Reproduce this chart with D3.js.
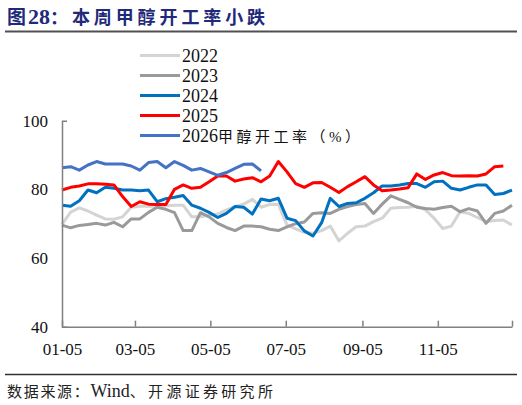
<!DOCTYPE html>
<meta charset="utf-8">
<head>
<title>甲醇开工率</title>
<script src="https://d3js.org/d3.v7.min.js"></script>
<style>
  body { margin: 0; background: #fff; }
  svg { font-family: "Liberation Serif", "Noto Sans CJK SC", serif; }
</style>
</head>
<body>
<div id="chart"></div>
<script>

    let w = 522;
    let h = 405;

    let tickDates = ["01-05", "03-05", "05-05", "07-05", "09-05", "11-05"];
    let seriesYears = ["2022", "2023", "2024", "2025", "2026"];
    let seriesColors = ["#d4d4d4", "#9a9a9a", "#0070c0", "#ff0000", "#4472c4"];

    let v2022 = [69.8, 73.4, 74.6, 73.7, 72.5, 71.4, 71.3, 72.0, 74.8, 75.1, 75.1, 75.1, 75.2, 75.4, 75.4, 72.0, 72.0, 72.5, 72.8, 74.0, 75.0, 75.7, 77.1, 74.8, 75.6, 75.7,
                 69.6, 68.5, 67.5, 67.2, 68.0, 69.3, 65.0, 67.2, 69.1, 69.3, 70.6, 71.6, 74.5, 74.7, 74.8, 75.1, 74.0, 71.6, 68.6, 69.3, 73.5, 73.0, 71.8, 70.6, 70.9, 71.1, 69.6];
    let v2023 = [69.6, 68.8, 69.5, 69.8, 70.1, 69.6, 70.4, 69.1, 71.4, 71.4, 73.3, 74.8, 74.2, 73.2, 68.0, 68.0, 73.2, 72.0, 70.1, 68.9, 68.0, 69.3, 69.3, 69.1, 68.4, 68.0,
                 69.1, 70.0, 70.5, 73.0, 73.2, 73.0, 74.2, 75.0, 75.6, 75.9, 73.0, 75.7, 78.1, 77.1, 76.1, 74.8, 74.4, 74.2, 74.7, 75.1, 73.5, 74.4, 73.7, 70.1, 73.0, 73.7, 75.4];
    let v2024 = [75.4, 75.1, 76.7, 79.8, 79.0, 80.6, 80.3, 79.8, 79.8, 79.6, 79.8, 76.4, 77.3, 77.7, 78.2, 75.4, 74.5, 73.3, 71.8, 73.0, 75.0, 74.8, 72.8, 77.2, 76.7, 77.4,
                 71.6, 70.9, 67.9, 66.4, 70.3, 77.4, 75.0, 75.9, 76.1, 77.4, 79.0, 81.0, 81.0, 81.3, 81.7, 81.7, 80.6, 82.2, 82.4, 80.3, 79.8, 80.6, 81.3, 81.3, 78.5, 78.8, 79.8];
    let v2025 = [79.8, 80.6, 81.0, 81.6, 81.6, 81.5, 81.3, 77.9, 75.0, 76.4, 75.7, 75.6, 75.6, 80.0, 81.3, 80.3, 80.6, 82.2, 83.9, 83.9, 82.4, 83.0, 83.4, 82.2, 83.9, 88.1,
                 85.1, 81.7, 80.6, 81.9, 82.0, 80.6, 79.1, 80.8, 82.2, 83.7, 81.3, 79.6, 79.8, 80.1, 80.5, 84.5, 82.9, 84.2, 84.9, 84.0, 83.9, 84.0, 83.9, 84.5, 86.6, 86.8];
    let v2026 = [86.3, 86.6, 85.6, 87.1, 88.1, 87.4, 87.4, 87.4, 86.8, 85.6, 87.8, 88.1, 86.3, 88.1, 87.0, 85.6, 86.1, 85.1, 84.1, 84.9, 86.1, 87.3, 87.4, 85.4];

    let allSeries = [v2022, v2023, v2024, v2025, v2026];

    let parse = d3.timeParse("%Y-%m-%d");
    let start = parse("2025-01-05");
    let weekDate = (i) => d3.timeDay.offset(start, i * 7);

    let svg = d3.select("#chart")
                .append("svg")
                .attr("width", w)
                .attr("height", h);

    // title + rules
    let title = svg.append("text")
                   .attr("x", 7)
                   .attr("y", 24)
                   .attr("font-size", 18)
                   .attr("font-weight", "bold")
                   .attr("fill", "#1f2a7a");
    title.append("tspan").attr("font-size", 19).attr("letter-spacing", 2).text("图");
    title.append("tspan").attr("font-size", 22).text("28");
    title.append("tspan").attr("letter-spacing", 3.9).text("：本周甲醇开工率小跌");

    svg.append("line")
       .attr("x1", 5).attr("x2", 517)
       .attr("y1", 31.5).attr("y2", 31.5)
       .style("stroke", "#505050")
       .style("stroke-width", 1.8);

    svg.append("line")
       .attr("x1", 5).attr("x2", 517)
       .attr("y1", 374.5).attr("y2", 374.5)
       .style("stroke", "#303030")
       .style("stroke-width", 1.3);

    let source = svg.append("text")
                    .attr("x", 7)
                    .attr("y", 397)
                    .attr("font-size", 15)
                    .attr("fill", "#222");
    source.append("tspan").attr("letter-spacing", 1.7).text("数据来源：");
    source.append("tspan").attr("font-size", 18).text("Wind");
    source.append("tspan").attr("letter-spacing", 3.3).text("、开源证券研究所");

    let x = d3.scaleTime()
              .domain([start, weekDate(52)])
              .range([62, 512]);

    let y = d3.scaleLinear()
              .domain([40, 100])
              .range([326.7, 120.7]);

    let line = d3.line()
                 .x((d, i) => x(weekDate(i)))
                 .y((d) => y(d));

    svg.selectAll("path.series")
       .data(allSeries)
       .enter()
       .append("path")
       .attr("class", "series")
       .attr("d", (d) => line(d))
       .style("fill", "none")
       .style("stroke", (d, i) => seriesColors[i])
       .style("stroke-width", 3)
       .style("stroke-linejoin", "round");

    let yAxis = svg.append("g")
                   .attr("transform", "translate(62,0)")
                   .call(d3.axisLeft(y).tickValues([40, 60, 80, 100]).tickSizeInner(0).tickSizeOuter(-5).tickPadding(14));

    let tickVals = tickDates.map((t) => parse("2025-" + t));
    tickVals.push(weekDate(52));

    let xAxis = svg.append("g")
                   .attr("transform", "translate(0,326.7)")
                   .call(d3.axisBottom(x).tickValues(tickVals).tickSize(-6).tickSizeOuter(0)
                           .tickFormat((d, i) => tickDates[i] || ""));

    [yAxis, xAxis].forEach((g) => {
        g.select(".domain").style("stroke", "#808080").style("stroke-width", 1.5);
        g.selectAll(".tick line").style("stroke", "#808080").style("stroke-width", 1.5);
        g.selectAll(".tick text")
         .attr("font-family", "Liberation Serif")
         .attr("font-size", 17)
         .attr("fill", "#111");
    });

    xAxis.selectAll(".tick text").attr("y", 16);

    // legend
    let legend = svg.selectAll("g.leg")
                    .data(seriesYears)
                    .enter()
                    .append("g")
                    .attr("class", "leg")
                    .attr("transform", (d, i) => "translate(140," + (55.5 + i * 20) + ")");

    legend.append("line")
          .attr("x1", 0).attr("x2", 40)
          .style("stroke", (d, i) => seriesColors[i])
          .style("stroke-width", 3);

    let legText = legend.append("text")
                        .attr("x", 42)
                        .attr("y", 6)
                        .attr("font-size", 18)
                        .attr("fill", "#111");
    legText.append("tspan").text((d) => d);
    legText.filter((d, i) => i == 4)
           .append("tspan")
           .attr("font-size", 15)
           .attr("letter-spacing", 3.5)
           .text("甲醇开工率（%）");

</script>
</body>
